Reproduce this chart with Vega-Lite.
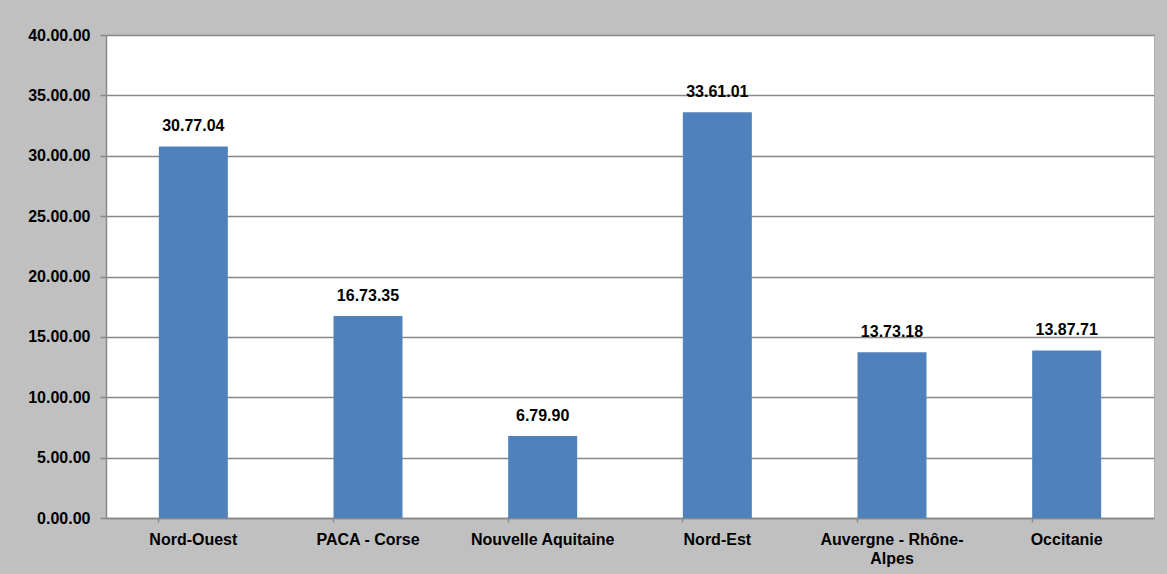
{
  "$schema": "https://vega.github.io/schema/vega-lite/v6.json",
  "autosize": {"type": "none"},
  "width": 1048,
  "height": 483,
  "padding": {"left": 106, "top": 35, "right": 13, "bottom": 56},
  "background": "#c0c0c0",
  "config": {
    "view": {"fill": "white", "stroke": "#b0b0b0", "strokeWidth": 1},
    "font": "Liberation Sans"
  },
  "data": {
    "values": [
      {"region": "Nord-Ouest", "value": 30.7704, "label": "30.77.04"},
      {"region": "PACA - Corse", "value": 16.7335, "label": "16.73.35"},
      {"region": "Nouvelle Aquitaine", "value": 6.799, "label": "6.79.90"},
      {"region": "Nord-Est", "value": 33.6101, "label": "33.61.01"},
      {"region": "Auvergne - Rhône-Alpes", "value": 13.7318, "label": "13.73.18"},
      {"region": "Occitanie", "value": 13.8771, "label": "13.87.71"}
    ]
  },
  "encoding": {
    "x": {
      "field": "region",
      "type": "nominal",
      "sort": null,
      "scale": {"paddingInner": 0.605, "paddingOuter": 0.3025},
      "axis": {
        "title": null,
        "labelAngle": 0,
        "labelFontSize": 16,
        "labelFontWeight": "bold",
        "labelColor": "#000000",
        "labelPadding": 9,
        "labelBaseline": "top",
        "labelLineHeight": 19,
        "labelExpr": "datum.value == 'Auvergne - Rhône-Alpes' ? ['Auvergne - Rhône-', 'Alpes'] : datum.value",
        "bandPosition": 0,
        "tickSize": 4,
        "tickColor": "#888888",
        "tickWidth": 1.5,
        "domainColor": "#888888",
        "domainWidth": 1.5,
        "grid": false
      }
    },
    "y": {
      "field": "value",
      "type": "quantitative",
      "scale": {"domain": [0, 40], "nice": false},
      "axis": {
        "title": null,
        "values": [0, 5, 10, 15, 20, 25, 30, 35, 40],
        "labelExpr": "format(datum.value, '.2f') + '.00'",
        "labelFontSize": 16,
        "labelFontWeight": "bold",
        "labelColor": "#000000",
        "labelPadding": 10,
        "tickSize": 6,
        "tickColor": "#888888",
        "tickWidth": 1.5,
        "domainColor": "#888888",
        "domainWidth": 1.5,
        "gridColor": "#888888",
        "gridWidth": 1.5,
        "gridOpacity": 1
      }
    }
  },
  "layer": [
    {"mark": {"type": "bar", "color": "#4f81bd"}},
    {
      "mark": {"type": "text", "baseline": "bottom", "dy": -12, "fontSize": 16, "fontWeight": "bold", "color": "#000000"},
      "encoding": {"text": {"field": "label"}}
    }
  ]
}
